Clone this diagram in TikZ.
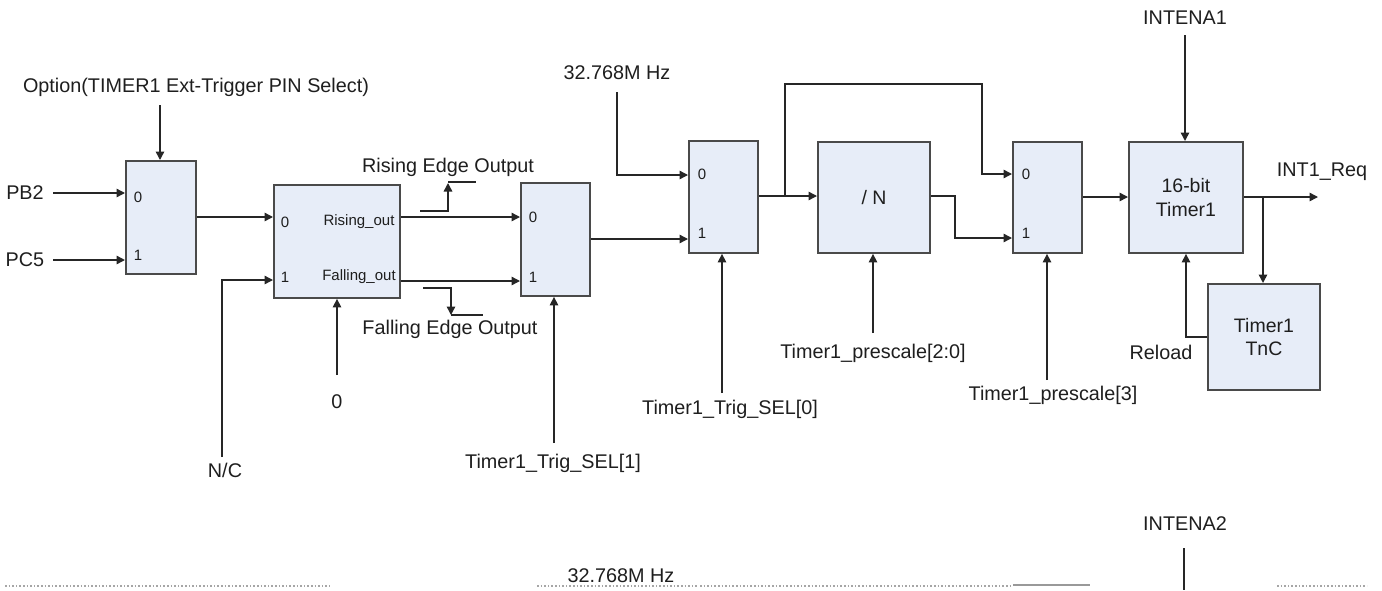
\documentclass[tikz,border=0pt]{standalone}
\usepackage{fontspec}
\setmainfont{Liberation Sans}
\usetikzlibrary{arrows.meta,calc}
\definecolor{boxfill}{HTML}{E7EDF8}
\definecolor{boxline}{HTML}{4A4A4A}
\definecolor{wirecol}{HTML}{262626}
\definecolor{txt}{HTML}{1E1E1E}
\begin{document}
\begin{tikzpicture}[x=1pt,y=-1pt,
  blk/.style={draw=boxline, line width=1.9pt, fill=boxfill, anchor=north west, inner sep=0pt,
    font=\fontsize{19.5}{23.5}\selectfont, align=center, text=txt},
  wire/.style={draw=wirecol, line width=1.45pt},
  arr/.style={wire, -{Triangle[length=8.5pt,width=8.5pt]}},
  lbl/.style={font=\fontsize{19.8}{22}\selectfont, inner sep=1pt, text=txt},
  pin/.style={font=\fontsize{15}{17}\selectfont, inner sep=0pt, text=txt},
]
\useasboundingbox (0,0) rectangle (1382,590);

% blocks
\node[blk, minimum width=70pt,  minimum height=113pt] (M1)  at (125,160) {};
\node[blk, minimum width=126pt, minimum height=113pt] (ED)  at (273,184) {};
\node[blk, minimum width=69pt,  minimum height=113pt] (M3)  at (520,182) {};
\node[blk, minimum width=69pt,  minimum height=112pt] (M4)  at (688,140) {};
\node[blk, minimum width=112pt, minimum height=111pt] (DIV) at (817,141) {/ N};
\node[blk, minimum width=69pt,  minimum height=111pt] (M5)  at (1012,141) {};
\node[blk, minimum width=114pt, minimum height=111pt] (TMR) at (1128,141) {16-bit\\Timer1};
\node[blk, minimum width=112pt, minimum height=106pt] (TNC) at (1207,283) {Timer1\\TnC};

% pin labels
\node[pin] (m1p0) at (138,197) {0};
\node[pin] (m1p1) at (138,255) {1};
\node[pin] (edp0) at (285,222) {0};
\node[pin] (edp1) at (285,277) {1};
\node[pin] (edro) at (359,222) {Rising\_out};
\node[pin] (edfo) at (359,277) {Falling\_out};
\node[pin] (m3p0) at (533,217) {0};
\node[pin] (m3p1) at (533,277) {1};
\node[pin] (m4p0) at (702,174) {0};
\node[pin] (m4p1) at (702,233) {1};
\node[pin] (m5p0) at (1026,174) {0};
\node[pin] (m5p1) at (1026,233) {1};

% text labels
\node[lbl] (opt)  at (196,87)  {Option(TIMER1 Ext-Trigger PIN Select)};
\node[lbl] (pb2)  at (25,193)  {PB2};
\node[lbl] (pc5)  at (25,260)  {PC5};
\node[lbl] (nc)   at (225,470) {N/C};
\node[lbl] (zero) at (337,402) {0};
\node[lbl] (reo)  at (448,167) {Rising Edge Output};
\node[lbl] (feo)  at (450,329) {Falling Edge Output};
\node[lbl] (ts1)  at (553,463) {Timer1\_Trig\_SEL[1]};
\node[lbl] (clk)  at (617,73)  {32.768M Hz};
\node[lbl] (ts0)  at (730,409) {Timer1\_Trig\_SEL[0]};
\node[lbl] (ps20) at (873,353) {Timer1\_prescale[2:0]};
\node[lbl] (ps3)  at (1053,395) {Timer1\_prescale[3]};
\node[lbl] (ie1)  at (1185,18) {INTENA1};
\node[lbl] (irq)  at (1322,172) {INT1\_Req};
\node[lbl] (rld)  at (1161,352) {Reload};
\node[lbl] (clk2) at (621,576) {32.768M Hz};
\node[lbl] (ie2)  at (1185,524) {INTENA2};

% free ends
\coordinate (optS) at (160,105);
\coordinate (pb2E) at (53,193);
\coordinate (pc5E) at (53,260);
\coordinate (ncN)  at (222,457);
\coordinate (zeroN) at (337,375);
\coordinate (ts1N) at (554,443);
\coordinate (clkS) at (617,92);
\coordinate (ts0N) at (722,393);
\coordinate (ps20N) at (873,333);
\coordinate (ps3N) at (1047,380);
\coordinate (ie1S) at (1185,35);
\coordinate (irqE) at (1318,197);
\coordinate (ie2S) at (1184,548);
\coordinate (ie2E) at (1184,590);

% connectors
\draw[arr] (optS) -- (M1.north -| optS);
\draw[arr] (pb2E) -- (M1.west |- pb2E);
\draw[arr] (pc5E) -- (M1.west |- pc5E);
\draw[arr] (M1.east |- 0,217) -- (ED.west |- 0,217);
\draw[arr] (ncN) |- (ED.west |- 0,280);
\draw[arr] (zeroN) -- (ED.south -| zeroN);
\draw[arr] (ED.east |- 0,217) -- (M3.west |- 0,217);
\draw[arr] (ED.east |- 0,281) -- (M3.west |- 0,281);
% edge symbols
\draw[arr] (420,211) -| (448,183);
\draw[wire] (448,182) -- (476,182);
\draw[arr] (423,288) -| (451,315);
\draw[wire] (451,315) -- (483,315);
\draw[arr] (ts1N) -- (M3.south -| ts1N);
\draw[arr] (M3.east |- 0,239) -- (M4.west |- 0,239);
\draw[arr] (clkS) |- (M4.west |- 0,175);
\draw[arr] (ts0N) -- (M4.south -| ts0N);
\draw[arr] (M4.east |- 0,196) -- (DIV.west |- 0,196);
\draw[arr] (785,196) |- (982,84) |- (M5.west |- 0,174);
\draw[arr] (DIV.east |- 0,196) -| (955,238) -- (M5.west |- 0,238);
\draw[arr] (ps20N) -- (DIV.south -| ps20N);
\draw[arr] (ps3N) -- (M5.south -| ps3N);
\draw[arr] (M5.east |- 0,197) -- (TMR.west |- 0,197);
\draw[arr] (ie1S) -- (TMR.north -| ie1S);
\draw[arr] (TMR.east |- 0,197) -- (irqE);
\draw[arr] (1263,197) -- (TNC.north -| 1263,0);
\draw[arr] (TNC.west |- 0,337) -| (TMR.south -| 1186,0);
\draw[wire] (ie2S) -- (ie2E);

% cut-off strip at the bottom
\draw[gray!70, dotted, line width=1.6pt] (5,586) -- (330,586);
\draw[gray!70, dotted, line width=1.6pt] (537,586) -- (697,586);
\draw[gray!70, dotted, line width=1.6pt] (700,586) -- (1010,586);
\draw[gray!80, line width=1.6pt] (1013,585) -- (1090,585);
\draw[gray!70, dotted, line width=1.6pt] (1277,586) -- (1367,586);
\end{tikzpicture}
\end{document}
